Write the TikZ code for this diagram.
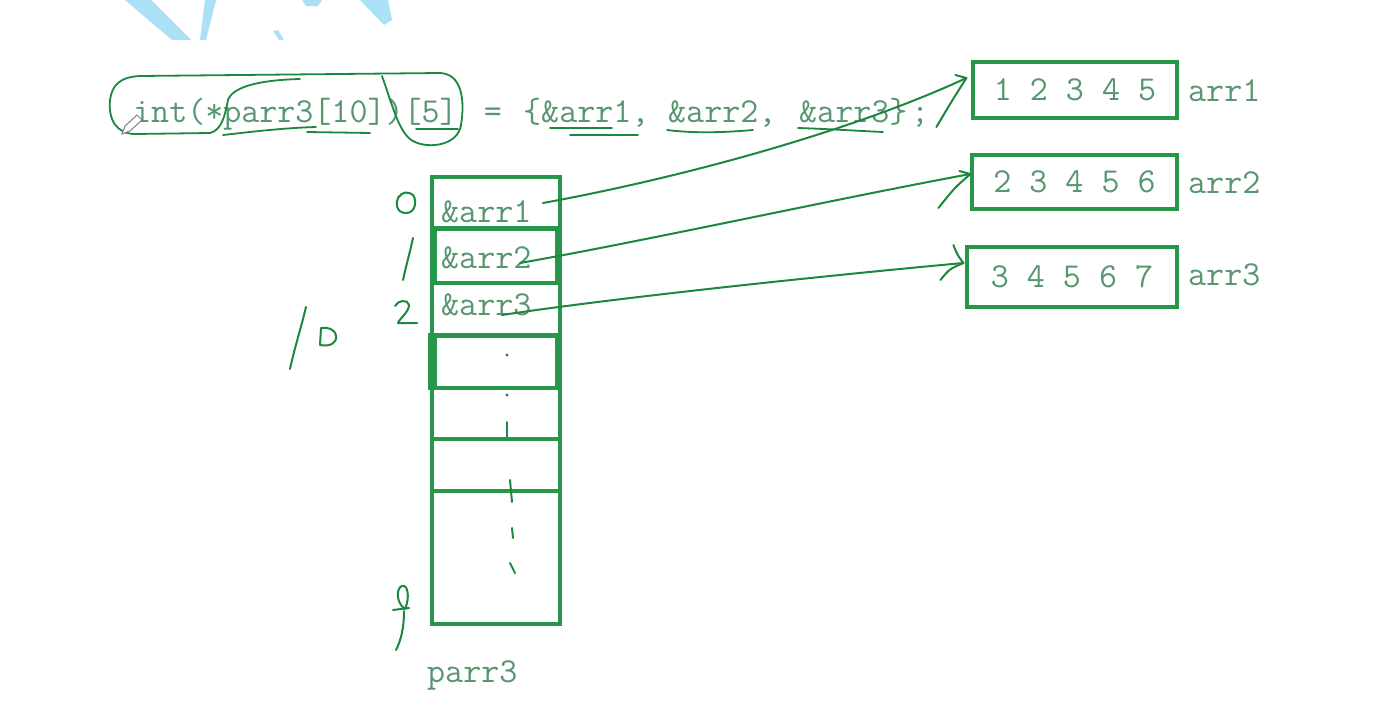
\documentclass[tikz,border=0pt]{standalone}
\usepackage{fontspec}
\usetikzlibrary{calc}
\definecolor{hand}{RGB}{28,135,62}
\definecolor{boxg}{RGB}{38,150,72}
\definecolor{txtg}{RGB}{88,150,112}
\definecolor{wm}{RGB}{172,224,246}
\newcommand\codefont{\fontsize{35}{40}\selectfont\ttfamily}
\tikzset{
  hw/.style={draw=hand, line width=2pt, line cap=round, line join=round},
  arrbox/.style={draw=boxg, line width=3.2pt, inner sep=0pt, font=\codefont, text=txtg},
  cellbox/.style={draw=boxg, line width=3.2pt, minimum width=128pt, inner sep=0pt},
  thickcell/.style={draw=boxg, line width=4pt, minimum width=122pt, inner sep=0pt},
  code/.style={font=\codefont, text=txtg, inner sep=0pt},
}
\begin{document}
\begin{tikzpicture}[x=1pt,y=-1pt]
\useasboundingbox (0,0) rectangle (1375,704);
\fill[white] (0,0) rectangle (1375,704);

% watermark fragments
\fill[wm] (125,0) -- (151,0) -- (191,40) -- (172,40) -- cycle;
\fill[wm] (205,0) -- (216,0) -- (206,40) -- (200,40) -- cycle;
\fill[wm] (273,31) -- (278,30) -- (284,40) -- (279,40) -- cycle;
\fill[wm] (302,0) -- (322,0) -- (318,6) -- (306,6) -- cycle;
\fill[wm] (360,0) -- (388,0) -- (392,20) -- (384,25) -- cycle;

% declaration
\node[code, anchor=base west] (d1) at (133,122) {int(*parr3[10])[5]};
\node[code, anchor=base] (d2) at (493,122) {=};
\node[code, anchor=base west] (d3) at (523,122) {\{\&arr1,};
\node[code, anchor=base west] (d4) at (668,122) {\&arr2,};
\node[code, anchor=base west] (d5) at (799,122) {\&arr3\}};
\node[code, anchor=base west] (d6) at (911,122) {;};

% target arrays
\node[arrbox, minimum width=204pt, minimum height=56pt] (a1) at (1075,90) {1 2 3 4 5};
\node[arrbox, minimum width=205pt, minimum height=54pt] (a2) at (1074.5,182) {2 3 4 5 6};
\node[arrbox, minimum width=210pt, minimum height=60pt] (a3) at (1072,277) {3 4 5 6 7};
\node[code, anchor=base west] (l1) at (1188,101) {arr1};
\node[code, anchor=base west] (l2) at (1188,193) {arr2};
\node[code, anchor=base west] (l3) at (1188,285) {arr3};

% pointer array column
\node[cellbox, minimum height=51pt] (c1) at (496,202.5) {};
\node[cellbox, minimum height=55pt] (c2) at (496,255.5) {};
\node[cellbox, minimum height=52pt] (c3) at (496,309) {};
\node[cellbox, minimum height=53pt] (c4) at (496,361.5) {};
\node[cellbox, minimum height=51pt] (c5) at (496,413.5) {};
\node[cellbox, minimum height=52pt] (c6) at (496,465) {};
\node[cellbox, minimum height=133pt] (c7) at (496,557.5) {};
\node[thickcell, minimum height=54pt] (c2b) at (496,255.5) {};
\node[thickcell, minimum height=52pt] (c4b) at (496,361.5) {};
\draw[draw=boxg, line width=4pt] (c4.north west) -- (c4.south west);

\node[code, anchor=base west] (t1) at (441,222) {\&arr1};
\node[code, anchor=base west] (t2) at (441,268) {\&arr2};
\node[code, anchor=base west] (t3) at (441,315) {\&arr3};
\node[code, anchor=base west] (pl) at (427,682) {parr3};

% dots in the column
\fill[hand] (507,355) circle (1.6pt);
\fill[hand] (507,395) circle (1.6pt);
\draw[hw] (507,422) -- (507,437);
\draw[hw] (510,480) -- (512,502);
\draw[hw] (512,528) -- (513,538);
\draw[hw] (510,563) -- (515,573);

% handwritten indices
\draw[hw] (399,196) .. controls (395,203) and (396,213) .. (406,213) .. controls (416,213) and (417,200) .. (413,195) .. controls (409,191) and (401,192) .. (399,197);
\draw[hw] (413,238) .. controls (410,252) and (406,266) .. (403,280);
\draw[hw] (395,306) .. controls (398,300) and (408,299) .. (409,305) .. controls (409,312) and (400,318) .. (398,323) -- (417,323);
\draw[hw] (306,307) .. controls (301,328) and (294,350) .. (290,369);
\draw[hw] (321,328) -- (320,345) .. controls (330,347) and (337,343) .. (336,336) .. controls (335,329) and (328,327) .. (321,328);
\draw[hw] (405,609) .. controls (396,603) and (396,588) .. (402,586) .. controls (408,584) and (410,598) .. (405,609);
\draw[hw] (393,610) -- (409,608);
\draw[hw] (404,611) .. controls (404,628) and (401,640) .. (396,650);

% scribbles on the declaration
\draw[hw, line width=1.8pt] (300,79) .. controls (262,80) and (233,86) .. (228,100)
  .. controls (225,115) and (222,130) .. (210,133) -- (135,134)
  .. controls (117,134) and (108,120) .. (110,100)
  .. controls (112,85) and (120,77) .. (140,76) -- (440,73)
  .. controls (462,74) and (465,100) .. (461,125)
  .. controls (458,145) and (430,149) .. (415,142)
  .. controls (400,136) and (394,110) .. (382,76);
\draw[hw, line width=1.8pt] (223,135) .. controls (250,132) and (282,128) .. (316,127);
\draw[hw, line width=1.8pt] (307,132) -- (370,133);
\draw[hw, line width=1.8pt] (416,129) -- (458,129);
\draw[hw, line width=1.8pt] (550,128) -- (612,128);
\draw[hw, line width=1.8pt] (570,135) -- (638,135);
\draw[hw, line width=1.8pt] (667,130) .. controls (690,133) and (720,133) .. (753,130);
\draw[hw, line width=1.8pt] (798,128) .. controls (830,129) and (860,131) .. (883,132);
% pencil cursor
\draw[gray, line width=1pt, fill=white] (122,134) -- (125,126) -- (137,115) -- (142,120) -- (130,131) -- cycle;

% pointer arrows
\coordinate (s1) at (543,203);
\coordinate (s2) at (520,263);
\coordinate (s3) at (502,315);
\coordinate (h1) at ($(a1.west)+(-5,-12)$);
\coordinate (h2) at ($(a2.west)+(0,-8)$);
\coordinate (h3) at ($(a3.west)+(-2,-14)$);
\draw[hw] (s1) .. controls (680,178) and (850,132) .. (h1);
\draw[hw] (h1) -- ++(-11,-3);
\draw[hw] (h1) .. controls ($(h1)+(-14,22)$) .. ($(h1)+(-30,49)$);
\draw[hw] (s2) .. controls (650,240) and (830,200) .. (h2);
\draw[hw] (h2) -- ++(-11,-3);
\draw[hw] (h2) .. controls ($(h2)+(-16,14)$) .. ($(h2)+(-32,34)$);
\draw[hw] (s3) .. controls (600,300) and (800,278) .. (h3);
\draw[hw] (h3) .. controls ($(h3)+(-6,-8)$) .. ($(h3)+(-10,-18)$);
\draw[hw] (h3) .. controls ($(h3)+(-14,6)$) .. ($(h3)+(-23,17)$);
\end{tikzpicture}
\end{document}
